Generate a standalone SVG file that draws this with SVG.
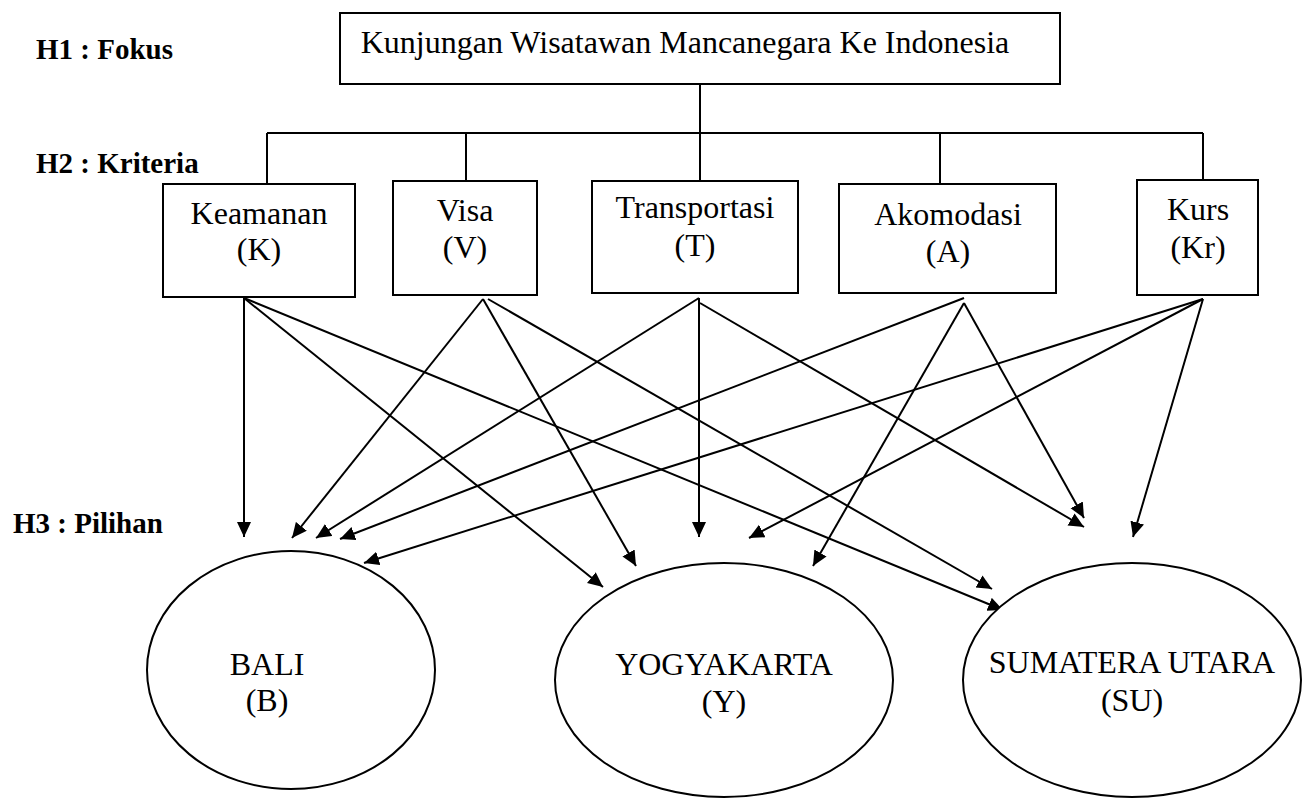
<svg xmlns="http://www.w3.org/2000/svg" width="1307" height="798" viewBox="0 0 1307 798">
<style>
.box{fill:#fff;stroke:#000;stroke-width:2}
.ell{fill:#fff;stroke:#000;stroke-width:2}
.t{font-family:"Liberation Serif","Times New Roman",serif;font-size:32px;fill:#000;text-anchor:middle}
.lab{font-family:"Liberation Serif","Times New Roman",serif;font-size:29px;font-weight:bold;fill:#000}
.tree{fill:none;stroke:#000;stroke-width:2}
.arr{fill:none;stroke:#000;stroke-width:2;marker-end:url(#ah)}
</style>
<defs>
<marker id="ah" markerUnits="userSpaceOnUse" markerWidth="16" markerHeight="15" refX="15" refY="7" orient="auto">
<path d="M0,0 L15,7 L0,14 z" fill="#000"/>
</marker>
</defs>
<rect width="1307" height="798" fill="#fff"/>
<g id="labels">
<text class="lab" x="36" y="59">H1 : Fokus</text>
<text class="lab" x="36" y="173">H2 : Kriteria</text>
<text class="lab" x="13" y="533">H3 : Pilihan</text>
</g>
<g id="connectors">
<path class="tree" d="M700,84 V133 M267,133 H1203 M267,133 V184 M466,133 V181 M700,133 V181 M940,133 V184 M1203,133 V180"/>
<line class="arr" x1="244" y1="298" x2="244" y2="537"/>
<line class="arr" x1="244" y1="298" x2="603" y2="587"/>
<line class="arr" x1="244" y1="298" x2="1003" y2="610"/>
<line class="arr" x1="483" y1="299" x2="292" y2="538"/>
<line class="arr" x1="483" y1="299" x2="636" y2="566"/>
<line class="arr" x1="488" y1="299" x2="992" y2="589"/>
<line class="arr" x1="699" y1="298" x2="316" y2="538"/>
<line class="arr" x1="699" y1="298" x2="699" y2="537"/>
<line class="arr" x1="700" y1="303" x2="1084" y2="527"/>
<line class="arr" x1="964" y1="298" x2="340" y2="539"/>
<line class="arr" x1="964" y1="303" x2="813" y2="566"/>
<line class="arr" x1="964" y1="303" x2="1084" y2="518"/>
<line class="arr" x1="1203" y1="299" x2="364" y2="563"/>
<line class="arr" x1="1203" y1="299" x2="749" y2="538"/>
<line class="arr" x1="1203" y1="299" x2="1133" y2="537"/>
</g>
<g id="fokus">
<rect class="box" x="340" y="13" width="720" height="71"/>
<text class="t" x="685" y="53">Kunjungan Wisatawan Mancanegara Ke Indonesia</text>
</g>
<g id="keamanan">
<rect class="box" x="163" y="184" width="192" height="113"/>
<text class="t" x="259" y="224">Keamanan</text>
<text class="t" x="259" y="260">(K)</text>
</g>
<g id="visa">
<rect class="box" x="393" y="181" width="144" height="114"/>
<text class="t" x="465" y="221">Visa</text>
<text class="t" x="465" y="258">(V)</text>
</g>
<g id="transportasi">
<rect class="box" x="592" y="181" width="206" height="112"/>
<text class="t" x="695" y="218">Transportasi</text>
<text class="t" x="695" y="256">(T)</text>
</g>
<g id="akomodasi">
<rect class="box" x="839" y="184" width="217" height="109"/>
<text class="t" x="948" y="225">Akomodasi</text>
<text class="t" x="948" y="262">(A)</text>
</g>
<g id="kurs">
<rect class="box" x="1137" y="180" width="121" height="115"/>
<text class="t" x="1198" y="220">Kurs</text>
<text class="t" x="1198" y="258">(Kr)</text>
</g>
<g id="bali">
<ellipse class="ell" cx="291" cy="670" rx="144" ry="119"/>
<text class="t" x="267" y="675">BALI</text>
<text class="t" x="267" y="711">(B)</text>
</g>
<g id="yogyakarta">
<ellipse class="ell" cx="724" cy="680" rx="169" ry="117"/>
<text class="t" x="724" y="675">YOGYAKARTA</text>
<text class="t" x="724" y="712">(Y)</text>
</g>
<g id="sumatera">
<ellipse class="ell" cx="1132" cy="680" rx="169" ry="117"/>
<text class="t" x="1132" y="673">SUMATERA UTARA</text>
<text class="t" x="1132" y="711">(SU)</text>
</g>
</svg>
